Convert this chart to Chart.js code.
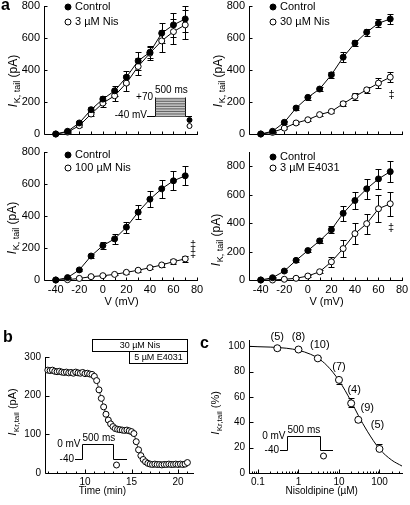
<!DOCTYPE html>
<html>
<head>
<meta charset="utf-8">
<title>IKr tail currents - nisoldipine</title>
<script src="https://cdn.jsdelivr.net/npm/chart.js@4.4.1/dist/chart.umd.min.js"></script>
<style>
  html, body { margin: 0; padding: 0; background: #fff; }
  #fig { position: relative; width: 410px; height: 505px; overflow: hidden; }
  #fig canvas { position: absolute; }
</style>
</head>
<body>
<div id="fig">
  <canvas id="ivNis3" width="205" height="150" style="left:0;top:0"></canvas>
  <canvas id="ivNis30" width="205" height="150" style="left:205px;top:0"></canvas>
  <canvas id="ivNis100" width="205" height="165" style="left:0;top:145px"></canvas>
  <canvas id="ivE4031" width="205" height="165" style="left:205px;top:145px"></canvas>
  <canvas id="timeCourse" width="205" height="195" style="left:0;top:310px"></canvas>
  <canvas id="doseResponse" width="215" height="195" style="left:195px;top:310px"></canvas>
</div>
<script>
const FONT = '"Liberation Sans", Arial, Helvetica, sans-serif';

// Panel a: I-V relations of the tail current (pA)
const voltage = [-40, -30, -20, -10, 0, 10, 20, 30, 40, 50, 60, 70];
const ivTickLabels = [-40, -20, 0, 20, 40, 60, 80];
const ivMinorTicks = [-30, -10, 10, 30, 50, 70];
const ivYTicks = [0, 200, 400, 600, 800];

const ctrl3 = [0, 17, 69, 152, 218, 270, 355, 457, 511, 630, 682, 719];
const ctrl3Err = [0, 5, 10, 15, 22, 30, 40, 55, 35, 62, 75, 80];
const nis3 = [0, 12, 52, 125, 193, 239, 318, 422, 505, 582, 640, 682];
const nis3Err = [0, 5, 10, 15, 22, 30, 50, 55, 45, 70, 80, 90];

const ctrl30 = [0, 17, 73, 162, 229, 281, 370, 480, 568, 636, 692, 719];
const ctrl30Err = [0, 5, 10, 12, 15, 15, 20, 30, 20, 22, 25, 30];
const nis30 = [0, 10, 37, 69, 89, 121, 141, 189, 235, 276, 318, 355];
const nis30Err = [0, 3, 5, 8, 8, 10, 12, 15, 20, 20, 30, 30];

const ctrl100 = [0, 15, 63, 150, 215, 257, 330, 424, 505, 570, 620, 651];
const ctrl100Err = [0, 5, 8, 15, 20, 30, 35, 45, 50, 55, 60, 60];
const nis100 = [0, 2, 10, 21, 27, 35, 48, 61, 77, 94, 115, 132];
const nis100Err = [0, 2, 3, 4, 5, 6, 8, 8, 10, 12, 15, 18];

const ctrlE = [0, 16, 63, 138, 207, 275, 354, 469, 559, 641, 711, 762];
const ctrlEErr = [0, 5, 8, 10, 12, 18, 25, 52, 58, 70, 70, 76];
const e4031 = [0, 0, 5, 12, 28, 58, 128, 221, 326, 396, 501, 536];
const e4031Err = [0, 2, 3, 5, 8, 10, 35, 58, 75, 70, 95, 85];

// Panel b: time course of IKr tail
const timeMin = [6, 6.25, 6.5, 6.75, 7, 7.25, 7.5, 7.75, 8, 8.25, 8.5, 8.75,
  9, 9.25, 9.5, 9.75, 10, 10.25, 10.5, 10.75, 11, 11.25, 11.5, 11.75,
  12, 12.25, 12.5, 12.75, 13, 13.25, 13.5, 13.75, 14, 14.25, 14.5, 14.75,
  15, 15.25, 15.5, 15.75, 16, 16.25, 16.5, 16.75, 17, 17.25, 17.5, 17.75,
  18, 18.25, 18.5, 18.75, 19, 19.25, 19.5, 19.75, 20, 20.25, 20.5, 20.75, 21];
const ikrTail = [266, 265, 266, 263, 262, 263, 261, 260, 261, 259, 260, 258,
  261, 259, 258, 260, 257, 258, 256, 255, 250, 239, 215, 193,
  171, 152, 137, 127, 120, 115, 113, 112, 111, 110, 111, 109,
  107, 102, 81, 60, 45, 35, 29, 25, 23, 22, 23, 22,
  22, 21, 22, 22, 23, 22, 22, 23, 22, 23, 22, 23, 27];
const timeTickLabels = [10, 15, 20];
const timeMinorTicks = [6, 7, 8, 9, 11, 12, 13, 14, 16, 17, 18, 19, 21];
const ikrTicks = [0, 100, 200, 300];
const drugLabels = ['30 \u00b5M Nis', '5 \u00b5M E4031'];
const drugStart = [10.8, 14.75];
const drugEnd = [21.0, 21.0];

// Panel c: concentration-response
const nisConc = [0.3, 1, 3, 10, 20, 30, 100];
const ikrPercent = [98.5, 97.5, 90.5, 73.5, 55, 42, 19];
const ikrErrUp = [1, 1, 1, 0, 4.5, 0, 4];
const ikrErrDown = [1, 1, 1, 3.5, 2.5, 2, 0];
const cellCounts = [5, 8, 10, 7, 4, 9, 5];
const fitConc = [0.06, 0.1, 0.2, 0.5, 1, 2, 3, 5, 10, 20, 30, 50, 100, 200, 360];
const fitPercent = [100, 99.7, 99.4, 98.5, 96.9, 93.7, 90.7, 85, 73, 56.5, 45.5, 33, 19, 10.2, 5.5];
const concTickLabels = [0.1, 1, 10, 100];
const concMinorTicks = [0.06, 0.07, 0.08, 0.09, 0.2, 0.3, 0.4, 0.5, 0.6, 0.7, 0.8, 0.9,
  2, 3, 4, 5, 6, 7, 8, 9, 20, 30, 40, 50, 60, 70, 80, 90, 200, 300];
const percentTicks = [0, 20, 40, 60, 80, 100];

// ---------- drawing helpers ----------
function xy(xs, ys) {
    return xs.map((x, i) => ({ x: x, y: ys[i] }));
}

function setFont(ctx, size, style) {
    ctx.font = (style ? style + ' ' : '') + size + 'px ' + FONT;
}

function text(ctx, str, x, y, size, align, style, baseline) {
    setFont(ctx, size, style);
    ctx.fillStyle = '#000';
    ctx.textAlign = align || 'left';
    ctx.textBaseline = baseline || 'middle';
    ctx.fillText(str, x, y);
}

function drawAxes(chart, t) {
    const ctx = chart.ctx;
    const a = chart.chartArea;
    const xs = chart.scales.x, ys = chart.scales.y;
    const L = Math.round(a.left) + 0.5, B = Math.round(a.bottom) + 0.5;
    ctx.save();
    ctx.strokeStyle = '#000';
    ctx.lineWidth = 1;
    ctx.beginPath();
    ctx.moveTo(L, Math.round(a.top));
    ctx.lineTo(L, B);
    ctx.lineTo(Math.round(a.right) + 1, B);
    t.xMajor.forEach(v => {
        const p = Math.round(xs.getPixelForValue(v)) + 0.5;
        ctx.moveTo(p, B); ctx.lineTo(p, B - t.major);
    });
    (t.xMinor || []).forEach(v => {
        const p = Math.round(xs.getPixelForValue(v)) + 0.5;
        ctx.moveTo(p, B); ctx.lineTo(p, B - t.minor);
    });
    t.yMajor.forEach(v => {
        const p = Math.round(ys.getPixelForValue(v)) + 0.5;
        ctx.moveTo(L, p); ctx.lineTo(L + t.major, p);
    });
    ctx.stroke();
    ctx.restore();
}

function drawErrorBars(chart, xv, yv, up, down, cap) {
    const ctx = chart.ctx;
    const xs = chart.scales.x, ys = chart.scales.y;
    ctx.save();
    ctx.strokeStyle = '#000';
    ctx.lineWidth = 1;
    ctx.beginPath();
    xv.forEach((x, i) => {
        const px = Math.round(xs.getPixelForValue(x)) + 0.5;
        const py = ys.getPixelForValue(yv[i]);
        if (up[i] > 0) {
            const hi = Math.round(ys.getPixelForValue(yv[i] + up[i])) + 0.5;
            ctx.moveTo(px, py); ctx.lineTo(px, hi);
            ctx.moveTo(px - cap, hi); ctx.lineTo(px + cap, hi);
        }
        if (down[i] > 0) {
            const lo = Math.round(ys.getPixelForValue(yv[i] - down[i])) + 0.5;
            ctx.moveTo(px, py); ctx.lineTo(px, lo);
            ctx.moveTo(px - cap, lo); ctx.lineTo(px + cap, lo);
        }
    });
    ctx.stroke();
    ctx.restore();
}

function drawYTitle(ctx, cx, cy, sub, unit, size, subSize) {
    ctx.save();
    ctx.translate(cx, cy);
    ctx.rotate(-Math.PI / 2);
    ctx.fillStyle = '#000';
    ctx.textAlign = 'left';
    ctx.textBaseline = 'alphabetic';
    setFont(ctx, size, 'italic');
    const wI = ctx.measureText('I').width + 0.5;
    setFont(ctx, subSize);
    const wS = ctx.measureText(sub).width;
    setFont(ctx, size);
    const wU = ctx.measureText(unit).width;
    const x0 = -(wI + wS + wU) / 2;
    const base = size * 0.36;
    setFont(ctx, size, 'italic');
    ctx.fillText('I', x0, base);
    setFont(ctx, subSize);
    ctx.fillText(sub, x0 + wI, base + size * 0.25);
    setFont(ctx, size);
    ctx.fillText(unit, x0 + wI + wS, base);
    ctx.restore();
}

function marker(ctx, x, y, r, filled) {
    ctx.save();
    ctx.beginPath();
    ctx.arc(x, y, r, 0, Math.PI * 2);
    ctx.fillStyle = filled ? '#000' : '#fff';
    ctx.fill();
    ctx.strokeStyle = '#000';
    ctx.lineWidth = 1;
    ctx.stroke();
    ctx.restore();
}

function drawLegendItem(ctx, x, y, filled, label) {
    marker(ctx, x, y, 3, filled);
    text(ctx, label, x + 7, y, 11);
}

// pulse protocol: 500 ms step from -40 mV to 0 mV
function drawStepProtocol(ctx, p) {
    ctx.save();
    ctx.strokeStyle = '#000';
    ctx.lineWidth = 1;
    ctx.beginPath();
    ctx.moveTo(p.x0, p.low); ctx.lineTo(p.up, p.low); ctx.lineTo(p.up, p.high);
    ctx.lineTo(p.down, p.high); ctx.lineTo(p.down, p.low); ctx.lineTo(p.x1, p.low);
    ctx.stroke();
    ctx.restore();
    marker(ctx, p.down + 3, p.low + 5.5, 3, false);
    text(ctx, '0 mV', p.up - 2, p.high, 10, 'right');
    text(ctx, '500 ms', p.up, p.high - 6, 10, 'left');
    text(ctx, '-40', p.x0 - 1, p.low, 10, 'right');
}

function baseOptions(p) {
    const xTicks = {
        display: p.xLabels !== false,
        color: '#000',
        font: { family: FONT, size: p.fontSize },
        padding: 3,
        autoSkip: false,
        maxRotation: 0
    };
    if (p.xFormat) xTicks.callback = p.xFormat;
    return {
        responsive: false,
        animation: false,
        events: [],
        layout: { padding: { left: 0, top: p.top, right: p.right, bottom: 0 } },
        plugins: { legend: { display: false }, tooltip: { enabled: false } },
        scales: {
            x: {
                type: p.xType || 'linear',
                min: p.xMin,
                max: p.xMax,
                grid: { display: false, drawTicks: false },
                border: { display: false },
                ticks: xTicks,
                afterBuildTicks: s => { s.ticks = p.xTicks.map(v => ({ value: v })); },
                afterFit: s => { s.height = p.xHeight; s.paddingLeft = 0; s.paddingRight = 0; }
            },
            y: {
                type: 'linear',
                min: p.yMin,
                max: p.yMax,
                grid: { display: false, drawTicks: false },
                border: { display: false },
                ticks: {
                    color: '#000',
                    font: { family: FONT, size: p.fontSize },
                    padding: 4,
                    autoSkip: false
                },
                afterBuildTicks: s => { s.ticks = p.yTicks.map(v => ({ value: v })); },
                afterFit: s => { s.width = p.yWidth; s.paddingTop = 0; s.paddingBottom = 0; }
            }
        }
    };
}

// ---------- panel a ----------
function createIVChart(id, cfg) {
    const opts = baseOptions({
        top: cfg.top, right: 8, xMin: -50, xMax: 80, xTicks: ivTickLabels,
        xLabels: cfg.xLabels, xHeight: cfg.xHeight, yMin: 0, yMax: cfg.yMax,
        yTicks: ivYTicks, yWidth: 44, fontSize: 11
    });
    return new Chart(document.getElementById(id), {
        type: 'line',
        data: {
            datasets: [{
                data: xy(voltage, cfg.ctrl),
                borderColor: '#000', borderWidth: 1,
                pointRadius: 3, pointBackgroundColor: '#000',
                pointBorderColor: '#000', pointBorderWidth: 1, clip: false
            }, {
                data: xy(voltage, cfg.drug),
                borderColor: '#000', borderWidth: 1,
                pointRadius: 3, pointBackgroundColor: '#fff',
                pointBorderColor: '#000', pointBorderWidth: 1, clip: false
            }]
        },
        options: opts,
        plugins: [{
            id: 'ivExtras',
            beforeDatasetsDraw(chart) {
                drawAxes(chart, { xMajor: ivTickLabels, xMinor: ivMinorTicks, yMajor: ivYTicks, major: 3, minor: 3 });
                drawErrorBars(chart, voltage, cfg.ctrl, cfg.ctrlErr, cfg.ctrlErr, 3);
                drawErrorBars(chart, voltage, cfg.drug, cfg.drugErr, cfg.drugErr, 3);
            },
            afterDraw(chart) {
                const ctx = chart.ctx;
                drawYTitle(ctx, cfg.titleX, cfg.titleY, 'K, tail', ' (pA)', 12, 9);
                drawLegendItem(ctx, 68, cfg.legendY[0], true, 'Control');
                drawLegendItem(ctx, 68, cfg.legendY[1], false, cfg.drugLabel);
                if (cfg.xLabels) text(ctx, 'V (mV)', 121.5, 157, 11, 'center');
                if (cfg.extra) cfg.extra(ctx);
            }
        }]
    });
}

createIVChart('ivNis3', {
    ctrl: ctrl3, ctrlErr: ctrl3Err, drug: nis3, drugErr: nis3Err,
    drugLabel: '3 \u00b5M Nis', top: 6, xHeight: 16, xLabels: false, yMax: 800,
    titleX: 13, titleY: 81, legendY: [7, 22],
    extra(ctx) {
        text(ctx, 'a', 1, 10, 16, 'left', 'bold', 'alphabetic');
        // step family -40 .. +70 mV
        ctx.save();
        ctx.strokeStyle = '#000';
        ctx.lineWidth = 1;
        ctx.beginPath();
        ctx.moveTo(147, 116.5); ctx.lineTo(155, 116.5);
        ctx.moveTo(185, 116.5); ctx.lineTo(192, 116.5);
        ctx.moveTo(155.5, 97.5); ctx.lineTo(155.5, 116.5);
        ctx.moveTo(185.5, 97.5); ctx.lineTo(185.5, 116.5);
        ctx.stroke();
        ctx.strokeStyle = '#333';
        ctx.lineWidth = 0.8;
        ctx.beginPath();
        for (let k = 0; k < 12; k++) {
            const y = 116.5 - k * 1.65;
            ctx.moveTo(155, y); ctx.lineTo(186, y);
        }
        ctx.stroke();
        ctx.restore();
        text(ctx, '+70', 153, 97, 10, 'right');
        text(ctx, '500 ms', 155, 90, 10, 'left');
        text(ctx, '-40 mV', 147, 115, 10, 'right');
        marker(ctx, 189.5, 120, 2.5, true);
        marker(ctx, 189.5, 126, 2.5, false);
    }
});

createIVChart('ivNis30', {
    ctrl: ctrl30, ctrlErr: ctrl30Err, drug: nis30, drugErr: nis30Err,
    drugLabel: '30 \u00b5M Nis', top: 6, xHeight: 16, xLabels: false, yMax: 800,
    titleX: 13, titleY: 81, legendY: [7, 22],
    extra(ctx) { text(ctx, '\u2021', 186.5, 95, 11, 'center'); }
});

createIVChart('ivNis100', {
    ctrl: ctrl100, ctrlErr: ctrl100Err, drug: nis100, drugErr: nis100Err,
    drugLabel: '100 \u00b5M Nis', top: 7, xHeight: 30, xLabels: true, yMax: 800,
    titleX: 12, titleY: 83, legendY: [10, 23],
    extra(ctx) {
        text(ctx, '\u2021', 193, 100, 11, 'center');
        text(ctx, '\u2021', 193, 109, 11, 'center');
    }
});

createIVChart('ivE4031', {
    ctrl: ctrlE, ctrlErr: ctrlEErr, drug: e4031, drugErr: e4031Err,
    drugLabel: '3 \u00b5M E4031', top: 7, xHeight: 30, xLabels: true, yMax: 900,
    titleX: 11, titleY: 95, legendY: [12, 23],
    extra(ctx) { text(ctx, '\u2021', 186, 83, 11, 'center'); }
});

// ---------- panel b ----------
new Chart(document.getElementById('timeCourse'), {
    type: 'line',
    data: {
        datasets: [{
            data: xy(timeMin, ikrTail),
            borderColor: '#000', borderWidth: 0.8,
            pointRadius: 3, pointBackgroundColor: '#fff',
            pointBorderColor: '#000', pointBorderWidth: 1, clip: false
        }]
    },
    options: baseOptions({
        top: 47, right: 12, xMin: 5.7, xMax: 21.6, xTicks: timeTickLabels,
        xHeight: 32, yMin: 0, yMax: 300, yTicks: ikrTicks, yWidth: 45, fontSize: 10
    }),
    plugins: [{
        id: 'timeExtras',
        beforeDatasetsDraw(chart) {
            drawAxes(chart, { xMajor: timeTickLabels, xMinor: timeMinorTicks, yMajor: ikrTicks, major: 4, minor: 2 });
        },
        afterDraw(chart) {
            const ctx = chart.ctx;
            const xs = chart.scales.x;
            text(ctx, 'b', 3, 31.7, 16, 'left', 'bold', 'alphabetic');
            drawYTitle(ctx, 12, 102, 'Kr,tail', ' (pA)', 11, 8);
            text(ctx, 'Time (min)', 102.5, 181.7, 10, 'center');
            const rows = [29.5, 41.5];
            ctx.save();
            ctx.strokeStyle = '#000';
            ctx.lineWidth = 1;
            drugLabels.forEach((lab, i) => {
                const x0 = Math.round(xs.getPixelForValue(drugStart[i])) + 0.5;
                const x1 = Math.round(xs.getPixelForValue(drugEnd[i])) + 0.5;
                ctx.fillStyle = '#fff';
                ctx.fillRect(x0, rows[i], x1 - x0, 12);
                ctx.strokeRect(x0, rows[i], x1 - x0, 12);
                text(ctx, lab, (x0 + x1) / 2, rows[i] + 6.5, 9, 'center');
            });
            ctx.restore();
            drawStepProtocol(ctx, { x0: 75, up: 82.5, down: 113.5, x1: 127, high: 134.5, low: 149.5 });
        }
    }]
});

// ---------- panel c ----------
const countOffsets = [[0, -11], [0, -13], [2, -13], [0, -13], [3, -13], [9, -12], [-2, -24]];

new Chart(document.getElementById('doseResponse'), {
    type: 'line',
    data: {
        datasets: [{
            data: xy(nisConc, ikrPercent),
            showLine: false,
            pointRadius: 3.5, pointBackgroundColor: '#fff',
            pointBorderColor: '#000', pointBorderWidth: 1, clip: false
        }, {
            data: xy(fitConc, fitPercent),
            borderColor: '#000', borderWidth: 1, pointRadius: 0,
            cubicInterpolationMode: 'monotone', clip: false
        }]
    },
    options: baseOptions({
        top: 30, right: 8, xType: 'logarithmic', xMin: 0.06, xMax: 360,
        xTicks: concTickLabels, xFormat: v => String(v),
        xHeight: 32, yMin: 0, yMax: 105, yTicks: percentTicks, yWidth: 54, fontSize: 10
    }),
    plugins: [{
        id: 'doseExtras',
        beforeDatasetsDraw(chart) {
            drawAxes(chart, { xMajor: concTickLabels, xMinor: concMinorTicks, yMajor: percentTicks, major: 4, minor: 2 });
            drawErrorBars(chart, nisConc, ikrPercent, ikrErrUp, ikrErrDown, 3);
        },
        afterDraw(chart) {
            const ctx = chart.ctx;
            const xs = chart.scales.x, ys = chart.scales.y;
            text(ctx, 'c', 5, 38, 16, 'left', 'bold', 'alphabetic');
            drawYTitle(ctx, 20, 103, 'Kr,tail', ' (%)', 11, 8);
            text(ctx, 'Nisoldipine (\u00b5M)', 126.7, 181.7, 10, 'center');
            nisConc.forEach((c, i) => {
                const px = xs.getPixelForValue(c) + countOffsets[i][0];
                const py = ys.getPixelForValue(ikrPercent[i]) + countOffsets[i][1];
                text(ctx, '(' + cellCounts[i] + ')', px, py, 11, 'center');
            });
            drawStepProtocol(ctx, { x0: 85, up: 92.5, down: 125.5, x1: 138, high: 126.5, low: 140.5 });
        }
    }]
});
</script>
</body>
</html>
